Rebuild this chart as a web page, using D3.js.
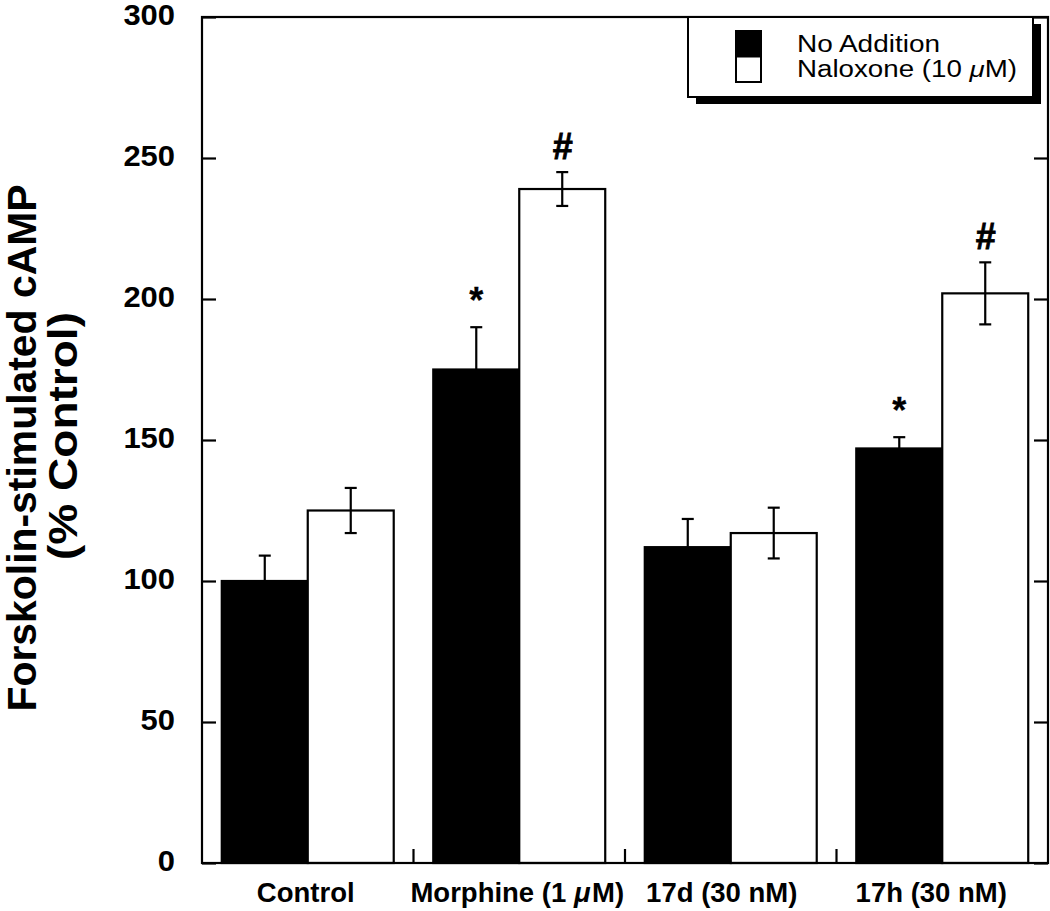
<!DOCTYPE html>
<html>
<head>
<meta charset="utf-8">
<script src="https://cdn.jsdelivr.net/npm/d3@7"></script>
<style>
  html, body { margin: 0; padding: 0; background: #fff; }
  svg { display: block; font-family: "Liberation Sans", Arial, Helvetica, sans-serif; }
</style>
</head>
<body>
<svg id="chart" width="1050" height="911"></svg>
<script>
// ---- data ----
const categories = ["Control", "Morphine (1 μM)", "17d (30 nM)", "17h (30 nM)"];
const seriesNames = ["No Addition", "Naloxone (10 μM)"];
const noAddition = [100, 175, 112, 147];
const noAdditionErr = [9, 15, 10, 4];
const naloxone = [125, 239, 117, 202];
const naloxoneErr = [8, 6, 9, 11];
const noAdditionMarks = ["", "*", "", "*"];
const naloxoneMarks = ["", "#", "", "#"];
const yTicks = [0, 50, 100, 150, 200, 250, 300];
const yTitle = ["Forskolin-stimulated cAMP", "(% Control)"];

// ---- layout ----
const svg = d3.select("#chart");
const L = 202, R = 1048, T = 17, B = 863;
const FONT = "'Liberation Sans', Arial, Helvetica, sans-serif";

const x = d3.scaleBand().domain(categories).range([L, R]).paddingInner(0).paddingOuter(0);
const xs = d3.scaleBand().domain(["a", "b"]).range([0, x.bandwidth()]).paddingInner(0).paddingOuter(0.23);
const y = d3.scaleLinear().domain([0, 300]).range([B, T]);

const series = [
  { key: "a", vals: noAddition, errs: noAdditionErr, marks: noAdditionMarks, fill: "#000" },
  { key: "b", vals: naloxone, errs: naloxoneErr, marks: naloxoneMarks, fill: "#fff" }
];

function addMu(sel, gap) {
  sel.each(function (c) {
    const t = d3.select(this);
    const parts = c.split("μ");
    t.append("tspan").text(parts[0]);
    if (parts.length > 1) {
      t.append("tspan").attr("font-style", "italic").text("μ");
      t.append("tspan").attr("dx", gap).text(parts[1]);
    }
  });
}

// bars
series.forEach(s => {
  svg.append("g").selectAll("rect").data(categories).join("rect")
    .attr("x", (c) => x(c) + xs(s.key))
    .attr("y", (c, i) => y(s.vals[i]))
    .attr("width", xs.bandwidth())
    .attr("height", (c, i) => y(0) - y(s.vals[i]))
    .attr("fill", s.fill)
    .attr("stroke", "#000")
    .attr("stroke-width", 2.2);
});

// error bars
series.forEach(s => {
  const g = svg.append("g").attr("stroke", "#000").attr("stroke-width", 2.2);
  categories.forEach((c, i) => {
    const cx = x(c) + xs(s.key) + xs.bandwidth() / 2;
    const hi = y(s.vals[i] + s.errs[i]);
    const lo = y(s.vals[i] - s.errs[i]);
    g.append("line").attr("x1", cx).attr("x2", cx).attr("y1", hi).attr("y2", lo);
    g.append("line").attr("x1", cx - 6).attr("x2", cx + 6).attr("y1", hi).attr("y2", hi);
    g.append("line").attr("x1", cx - 6).attr("x2", cx + 6).attr("y1", lo).attr("y2", lo);
  });
});

// significance marks
series.forEach(s => {
  svg.append("g").selectAll("text").data(categories).join("text")
    .attr("x", (c) => x(c) + xs(s.key) + xs.bandwidth() / 2)
    .attr("y", (c, i) => y(s.vals[i] + s.errs[i]) - (s.marks[i] === "*" ? 14 : 13))
    .attr("text-anchor", "middle")
    .attr("font-weight", "bold")
    .attr("font-size", 36)
    .attr("font-style", (c, i) => s.marks[i] === "#" ? "italic" : "normal")
    .attr("stroke", "#000")
    .attr("stroke-width", (c, i) => s.marks[i] === "#" ? 0.8 : 0.3)
    .text((c, i) => s.marks[i]);
});

// frame
svg.append("rect").attr("x", L).attr("y", T).attr("width", R - L).attr("height", B - T)
  .attr("fill", "none").attr("stroke", "#000").attr("stroke-width", 2.2);

// y axis left (ticks inward)
const yAxisL = svg.append("g").attr("transform", `translate(${L},0)`)
  .call(d3.axisLeft(y).tickValues(yTicks).tickSize(-14).tickPadding(27).tickFormat(d3.format("d")));
yAxisL.select(".domain").remove();
yAxisL.selectAll(".tick line").attr("stroke", "#000").attr("stroke-width", 2.2);
yAxisL.selectAll(".tick text")
  .attr("font-size", 29).attr("font-weight", "bold")
  .attr("font-family", FONT).attr("fill", "#000")
  .attr("dy", null).attr("y", 7)
  .attr("textLength", d => String(d).length * 17.2)
  .attr("lengthAdjust", "spacingAndGlyphs");

// y axis right (ticks inward)
const yAxisR = svg.append("g").attr("transform", `translate(${R},0)`)
  .call(d3.axisRight(y).tickValues(yTicks).tickSize(-14).tickFormat(""));
yAxisR.select(".domain").remove();
yAxisR.selectAll(".tick line").attr("stroke", "#000").attr("stroke-width", 2.2);

// x axis: ticks at group boundaries, inward
const xAxis = svg.append("g").attr("transform", `translate(0,${B})`);
xAxis.selectAll("line").data(categories.slice(1)).join("line")
  .attr("x1", c => x(c)).attr("x2", c => x(c))
  .attr("y1", 0).attr("y2", -14)
  .attr("stroke", "#000").attr("stroke-width", 2.2);

const labelShift = [-2, -2, -9, -11];
const xl = xAxis.selectAll("text").data(categories).join("text")
  .attr("x", (c, i) => x(c) + x.bandwidth() / 2 + labelShift[i])
  .attr("y", 39)
  .attr("text-anchor", "middle")
  .attr("font-size", 27.5)
  .attr("font-weight", "bold");
addMu(xl, 1.5);

// y title
const yt = svg.append("text")
  .attr("transform", `translate(0,448) rotate(-90)`)
  .attr("text-anchor", "middle")
  .attr("font-weight", "bold")
  .attr("font-size", 40);
yt.append("tspan").attr("x", 0).attr("y", 36).attr("textLength", 527)
  .attr("lengthAdjust", "spacingAndGlyphs").text(yTitle[0]);
yt.append("tspan").attr("x", 12).attr("y", 77).attr("textLength", 248)
  .attr("lengthAdjust", "spacingAndGlyphs").text(yTitle[1]);

// legend
const lg = svg.append("g");
const lx = 688, ly = 17, lw = 345, lh = 80;
lg.append("rect").attr("x", lx + 8).attr("y", ly + 7).attr("width", lw).attr("height", lh).attr("fill", "#000");
lg.append("rect").attr("x", lx).attr("y", ly).attr("width", lw).attr("height", lh)
  .attr("fill", "#fff").attr("stroke", "#000").attr("stroke-width", 2);
const legendY = d3.scaleBand().domain(seriesNames).range([ly + 14, ly + 65]);
lg.selectAll("rect.sw").data(seriesNames).join("rect").attr("class", "sw")
  .attr("x", lx + 48).attr("y", d => legendY(d))
  .attr("width", 25).attr("height", legendY.bandwidth())
  .attr("fill", (d, i) => series[i].fill).attr("stroke", "#000").attr("stroke-width", 2);
const legendLen = [143, 220];
const lt = lg.selectAll("text").data(seriesNames).join("text")
  .attr("x", lx + 109).attr("y", d => legendY(d) + legendY.bandwidth() / 2 + 8)
  .attr("font-size", 23)
  .attr("textLength", (d, i) => legendLen[i])
  .attr("lengthAdjust", "spacingAndGlyphs");
addMu(lt, 0);
</script>
</body>
</html>
